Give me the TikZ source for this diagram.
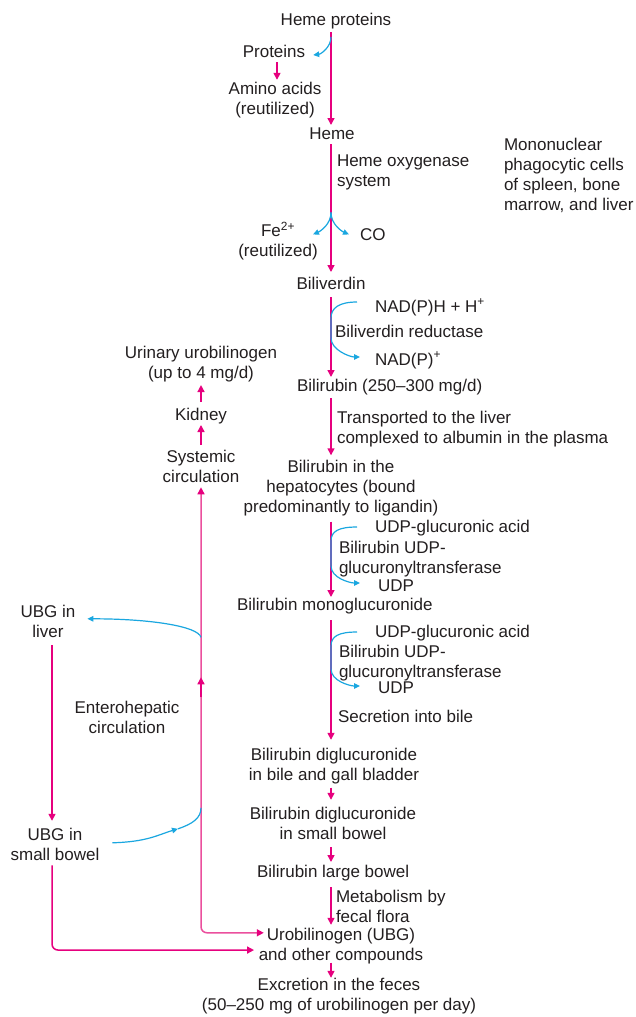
\documentclass[tikz,border=0pt]{standalone}
\usepackage{fontspec}
\setmainfont{Liberation Sans}
\usetikzlibrary{arrows.meta,calc}
\definecolor{pk}{HTML}{E6007E}
\definecolor{pkl}{HTML}{EB4F9D}
\definecolor{bl}{HTML}{1AA7E0}
\definecolor{tx}{HTML}{231F20}
\begin{document}
\begin{tikzpicture}[x=1pt,y=-1pt,
  every node/.style={inner sep=0pt,outer sep=0pt,text=tx,font=\fontsize{17}{20}\selectfont},
  lb/.style={anchor=base},
  lbw/.style={anchor=base west},
  mlc/.style={anchor=north,align=center},
  mlw/.style={anchor=north west,align=left},
  pka/.style={draw=pk,line width=1.5pt,-{Triangle[length=7pt,width=7pt]}},
  bla/.style={draw=bl,line width=1.2pt,-{Triangle[length=6pt,width=5.5pt]}},
  bll/.style={draw=bl,line width=1.2pt}]
\fill[white] (0,0) rectangle (635,1017);
\path[use as bounding box] (0,0) rectangle (635,1017);
\coordinate (M) at (331,0);
\coordinate (L) at (201,0);
\coordinate (F) at (52,0);
% ---------- main column
\node[lb] (hp) at (336,25) {Heme proteins};
\node[lb] (prot) at (274,57) {Proteins};
\node[mlc] (amino) at (275,81.8) {Amino acids\\(reutilized)};
\node[lb] (heme) at (332,139) {Heme};
\node[mlw] (hox) at (337,154.8) {Heme oxygenase\\system};
\node[mlc] (fe) at (278,221.7) {Fe\textsuperscript{2+}\\(reutilized)};
\node[lbw] (co) at (360,240) {CO};
\node[lb] (bv) at (331,289) {Biliverdin};
\node[lbw] (nadh) at (375,312) {NAD(P)H + H\textsuperscript{+}};
\node[lbw] (bvr) at (335,337) {Biliverdin reductase};
\node[lbw] (nadp) at (375,365) {NAD(P)\textsuperscript{+}};
\node[lbw] (br) at (297,391) {Bilirubin (250–300 mg/d)};
\node[mlw] (trans) at (337,410.8) {Transported to the liver\\complexed to albumin in the plasma};
\node[mlc] (hep) at (341,459.8) {Bilirubin in the\\hepatocytes (bound\\predominantly to ligandin)};
\node[lbw] (udpa1) at (375,532) {UDP-glucuronic acid};
\node[mlw] (enz1) at (339,540.8) {Bilirubin UDP-\\glucuronyltransferase};
\node[lbw] (udpb1) at (378,591) {UDP};
\node[lbw] (mono) at (237,610) {Bilirubin monoglucuronide};
\node[lbw] (udpa2) at (375,637) {UDP-glucuronic acid};
\node[mlw] (enz2) at (339,644.8) {Bilirubin UDP-\\glucuronyltransferase};
\node[lbw] (udpb2) at (378,693) {UDP};
\node[lbw] (sec) at (338,722) {Secretion into bile};
\node[mlc] (digb) at (334,747.8) {Bilirubin diglucuronide\\in bile and gall bladder};
\node[mlc] (digs) at (333,806.8) {Bilirubin diglucuronide\\in small bowel};
\node[lbw] (large) at (257,877) {Bilirubin large bowel};
\node[mlw] (meta) at (336,889.8) {Metabolism by\\fecal flora};
\node[mlc] (ubg) at (341,927.8) {Urobilinogen (UBG)\\and other compounds};
\node[mlc] (exc) at (339,977.8) {Excretion in the feces\\(50–250 mg of urobilinogen per day)};
% ---------- left side
\node[mlc] (urin) at (201,345.8) {Urinary urobilinogen\\(up to 4 mg/d)};
\node[lb] (kid) at (201,420) {Kidney};
\node[mlc] (sys) at (201,449.8) {Systemic\\circulation};
\node[mlc] (ubgl) at (48,604.8) {UBG in\\liver};
\node[mlc] (ubgs) at (55,827.8) {UBG in\\small bowel};
\node[mlc] (ent) at (127,700.8) {Enterohepatic\\circulation};
\node[mlw] (mnp) at (504,137.8) {Mononuclear\\phagocytic cells\\of spleen, bone\\marrow, and liver};
% ---------- main arrows
\draw[pka] ($(hp.base -| M)+(0,7)$) -- ($(heme.base -| M)+(0,-14)$);
\draw[pka] ($(prot.base)+(3,5)$) -- ($(amino.north)+(2,-2)$);
\draw[pka] ($(heme.base -| M)+(0,5)$) -- ($(bv.base -| M)+(0,-17)$);
\draw[pka] ($(bv.base -| M)+(0,8)$) -- ($(br.base -| M)+(0,-14)$);
\draw[pka] ($(br.base -| M)+(0,7)$) -- ($(hep.north -| M)+(0,-4.5)$);
\draw[pka] ($(hep.south -| M)+(0,6)$) -- ($(mono.base -| M)+(0,-13)$);
\draw[pka] ($(mono.base -| M)+(0,10)$) -- ($(digb.north -| M)+(0,-8)$);
\draw[pka] ($(digb.south -| M)+(0,4)$) -- ($(digs.north -| M)+(0,-7)$);
\draw[pka] ($(digs.south -| M)+(0,8)$) -- ($(large.base -| M)+(0,-15)$);
\draw[pka] ($(large.base -| M)+(0,10)$) -- ($(ubg.north -| M)+(0,-3)$);
\draw[pka] ($(ubg.south -| M)+(0,-1)$) -- (exc.north -| M);
% ---------- blue side reactions
\draw[bla] ($(hp.base -| M)+(0,12)$) .. controls +(0,10) and +(8,-1) .. ($(prot.base east)+(8,-2)$);
\coordinate (sp) at ($(hox.south -| M)+(0,22.4)$);
\draw[bla] (sp) .. controls +(0,12) and +(7,-3) .. ($(sp)+(-18,22)$);
\draw[bla] (sp) .. controls +(0,12) and +(-7,-3) .. ($(sp)+(18,22)$);
\draw[bla] ($(nadh.base west)+(-18,-10)$) .. controls +(-18,0) and +(0,-10) .. ($(M |- nadh.base)+(0,6)$)
  -- ($(M |- bvr.base)+(0,1)$) .. controls +(0,12) and +(-10,0) .. ($(nadp.base west)+(-15,-8)$);
\draw[bla] ($(udpa1.base west)+(-18,-5)$) .. controls +(-18,0) and +(0,-10) .. ($(M |- udpa1.base)+(0,9)$)
  -- ($(M |- udpb1.base)+(0,-25)$) .. controls +(0,12) and +(-10,0) .. ($(udpb1.base west)+(-18,-8)$);
\draw[bla] ($(udpa2.base west)+(-18,-5)$) .. controls +(-18,0) and +(0,-10) .. ($(M |- udpa2.base)+(0,9)$)
  -- ($(M |- udpb2.base)+(0,-24)$) .. controls +(0,12) and +(-10,0) .. ($(udpb2.base west)+(-18,-7)$);
% ---------- left arrows
\draw[pka] ($(kid.base)+(0,-18)$) -- ($(urin.south)+(0,3.4)$);
\draw[pka] ($(sys.north)+(0,-5)$) -- ($(kid.base)+(0,5)$);
\draw[draw=pkl,line width=1.5pt,{Triangle[length=7pt,width=7pt,color=pk]}-{Triangle[length=7pt,width=7pt,color=pk]},rounded corners=6pt]
  ($(sys.south)+(0,5)$) |- ($(ubg.north west)+(5,5)$);
\draw[pka] ($(L |- sys.south)+(0,215)$) -- ($(L |- sys.south)+(0,195)$);
\draw[pka] ($(ubgl.south -| F)+(0,8)$) -- ($(ubgs.north -| F)+(0,-7)$);
\draw[pka,rounded corners=6pt] ($(ubgs.south -| F)+(0,5)$) |- ($(ubg.south west)+(-4.7,-13.6)$);
% ---------- enterohepatic blue
\draw[bla] (L |- ubgl.south) .. controls +(-3,-11) and +(63,0) .. ($(ubgl.north east)+(12,14)$);
\coordinate (sbm) at ($(L |- ubgs.north)+(-23,1)$);
\coordinate (sbe) at ($(L |- ubgs.north)+(0,-20)$);
\draw[bla] ($(ubgs.north east)+(13,15)$) .. controls +(35,-1) and +(-20,6) .. (sbm);
\draw[bll] (sbm) .. controls +(15,-5) and +(0,10) .. (sbe);
\end{tikzpicture}
\end{document}
